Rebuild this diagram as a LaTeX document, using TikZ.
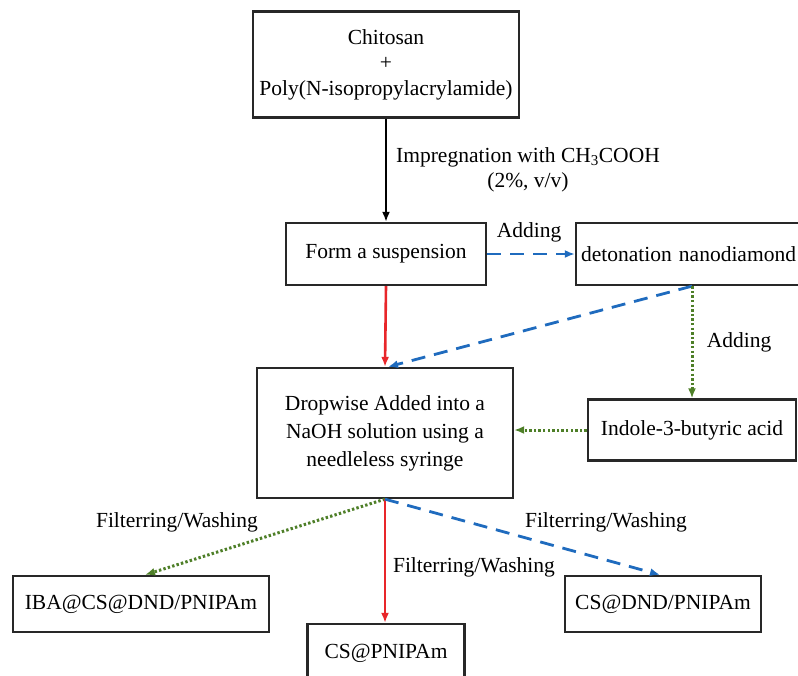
\documentclass[tikz,border=0pt]{standalone}
\usepackage{fontspec}
\setmainfont{Liberation Serif}
\usetikzlibrary{arrows.meta}
\definecolor{cred}{RGB}{232,38,42}
\definecolor{cblue}{RGB}{31,107,190}
\definecolor{cgreen}{RGB}{78,127,40}
\definecolor{cbox}{RGB}{40,40,40}
\tikzset{
  box/.style={draw=cbox, line width=2.3pt, inner sep=0pt, align=center, font=\fontsize{21.5}{25.5}\selectfont},
  lbl/.style={inner sep=0pt, align=center, font=\fontsize{21.5}{25.5}\selectfont},
  arr/.style={line width=2.6pt, -{Latex[length=10pt,width=8pt]}},
  blk/.style={arr, draw=black},
  redarr/.style={arr, draw=cred, -{Latex[length=10pt,width=8pt,fill=cred]}},
  bluearr/.style={arr, line width=2.8pt, draw=cblue, dash pattern=on 14pt off 9pt, -{Latex[length=10pt,width=8pt,fill=cblue]}},
  greenarr/.style={arr, draw=cgreen, line width=3pt, dash pattern=on 2.4pt off 2.2pt, -{Latex[length=10pt,width=8pt,fill=cgreen]}}
}
\begin{document}
\begin{tikzpicture}[x=1pt,y=-1pt]
\useasboundingbox (0,0) rectangle (798,675);
\clip (0,0) rectangle (798,675);
\node[box, minimum width=266pt, minimum height=106pt] (top) at (386,64.5) {Chitosan\\+\\Poly(N-isopropylacrylamide)};
\node[box, minimum width=200pt, minimum height=62pt] (form) at (386,254) {Form a suspension};
\node[box, minimum width=232pt, minimum height=62pt, text width=232pt] (det) at (692,254) {\hspace*{-7pt}detonation nanodiamond};
\node[box, minimum width=256pt, minimum height=130pt, font=\fontsize{21.5}{28}\selectfont] (drop) at (385,433) {Dropwise Added into a\\NaOH solution using a\\needleless syringe};
\node[box, minimum width=208pt, minimum height=61pt] (ind) at (692,430) {Indole-3-butyric acid};
\node[box, minimum width=256pt, minimum height=56pt] (iba) at (141,604) {IBA@CS@DND/PNIPAm};
\node[box, minimum width=157pt, minimum height=58pt] (cs) at (386,653) {CS@PNIPAm};
\node[box, minimum width=196pt, minimum height=56pt] (csd) at (663,604) {CS@DND/PNIPAm};

\draw[blk] (top.south) -- (form.north);
\node[lbl] (imp) at (528,170) {Impregnation with CH\textsubscript{3}COOH\\(2\%, v/v)};
\draw[bluearr] (form.east) -- (det.west);
\node[lbl] (add1) at (529,232) {Adding};
\draw[redarr] (form.south) -- (drop.north);
\draw[bluearr] (det.south) -- ([xshift=3pt]drop.north);
\draw[greenarr] (det.south) -- (ind.north);
\node[lbl] (add2) at (739,342) {Adding};
\draw[greenarr] (ind.west) -- (ind.west -| drop.east);
\draw[greenarr] (drop.south) -- ([xshift=4pt]iba.north);
\draw[redarr] (drop.south) -- (drop.south |- cs.north);
\draw[bluearr] (drop.south) -- ([xshift=-3pt]csd.north);
\node[lbl] (fw1) at (177,522) {Filterring/Washing};
\node[lbl] (fw2) at (474,567) {Filterring/Washing};
\node[lbl] (fw3) at (606,522) {Filterring/Washing};
\end{tikzpicture}
\end{document}
